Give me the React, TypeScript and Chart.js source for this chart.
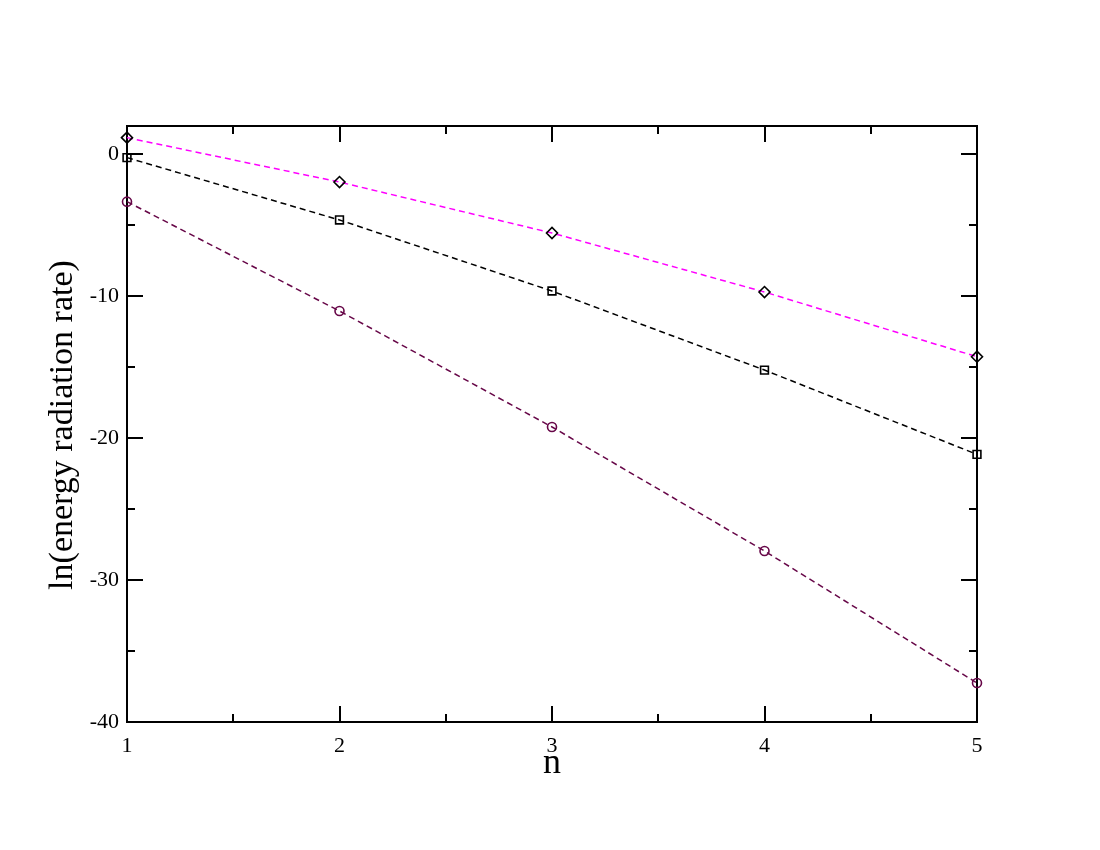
import React, { useEffect, useRef } from "react";
import { Chart, registerables } from "chart.js";

Chart.register(...registerables);

const nValues = [1, 2, 3, 4, 5];
const diamondSeries = [1.18, -1.95, -5.54, -9.7, -14.26];
const squareSeries = [-0.23, -4.62, -9.63, -15.2, -21.14];
const circleSeries = [-3.33, -11.04, -19.21, -27.95, -37.25];
const xMajorTicks = [1, 2, 3, 4, 5];
const xMinorTicks = [1.5, 2.5, 3.5, 4.5];
const yMajorTicks = [-40, -30, -20, -10, 0];
const yMinorTicks = [-35, -25, -15, -5];
const xTitle = "n";
const yTitle = "ln(energy radiation rate)";

const FONT = "'Liberation Serif', 'DejaVu Serif', serif";

const framePlugin = {
  id: "frameTicks",
  beforeDatasetsDraw(chart: any) {
    const { ctx, chartArea } = chart;
    const xs = chart.scales.x;
    const ys = chart.scales.y;
    const { left, right, top, bottom } = chartArea;
    ctx.save();
    ctx.strokeStyle = "#000";
    ctx.lineWidth = 2;
    ctx.setLineDash([]);
    ctx.strokeRect(left, top, right - left, bottom - top);
    const major = 16;
    const minor = 8;
    ctx.beginPath();
    const xt = (v: number, len: number) => {
      const px = Math.round(xs.getPixelForValue(v));
      ctx.moveTo(px, bottom);
      ctx.lineTo(px, bottom - len);
      ctx.moveTo(px, top);
      ctx.lineTo(px, top + len);
    };
    const yt = (v: number, len: number) => {
      const py = Math.round(ys.getPixelForValue(v));
      ctx.moveTo(left, py);
      ctx.lineTo(left + len, py);
      ctx.moveTo(right, py);
      ctx.lineTo(right - len, py);
    };
    xMajorTicks.forEach((v) => xt(v, major));
    xMinorTicks.forEach((v) => xt(v, minor));
    yMajorTicks.forEach((v) => yt(v, major));
    yMinorTicks.forEach((v) => yt(v, minor));
    ctx.stroke();

    ctx.fillStyle = "#000";
    ctx.font = `36px ${FONT}`;
    ctx.textAlign = "center";
    ctx.textBaseline = "alphabetic";
    ctx.fillText(xTitle, (left + right) / 2, 773);

    ctx.font = `34px ${FONT}`;
    ctx.translate(72, (top + bottom) / 2 + 1);
    ctx.rotate(-Math.PI / 2);
    ctx.fillText(yTitle, 0, 0);
    ctx.restore();
  },
};

export default function App() {
  const ref = useRef<HTMLCanvasElement | null>(null);

  useEffect(() => {
    document.body.style.margin = "0";
    const canvas = ref.current;
    if (!canvas) return;
    const mk = (vals: number[]) => nValues.map((n, i) => ({ x: n, y: vals[i] }));
    const common = {
      borderWidth: 1.5,
      borderDash: [6, 4],
      pointBackgroundColor: "rgba(0,0,0,0)",
      pointBorderWidth: 1.6,
      fill: false,
      tension: 0,
      clip: false as any,
    };
    const chart = new Chart(canvas, {
      type: "line",
      data: {
        datasets: [
          {
            ...common,
            label: "diamond",
            data: mk(diamondSeries),
            borderColor: "#ff00ff",
            pointStyle: "rectRot",
            pointRadius: 5.5,
            pointBorderColor: "#000",
          },
          {
            ...common,
            label: "square",
            data: mk(squareSeries),
            borderColor: "#000000",
            pointStyle: "rect",
            pointRadius: 5.5,
            pointBorderColor: "#000",
          },
          {
            ...common,
            label: "circle",
            data: mk(circleSeries),
            borderColor: "#670748",
            pointStyle: "circle",
            pointRadius: 4.5,
            pointBorderColor: "#670748",
          },
        ],
      },
      options: {
        responsive: false,
        animation: false,
        events: [],
        layout: { padding: { left: 57, right: 123, top: 126, bottom: 78 } },
        plugins: { legend: { display: false }, tooltip: { enabled: false } },
        scales: {
          x: {
            type: "linear",
            min: 1,
            max: 5,
            grid: { display: false, drawTicks: false },
            border: { display: false },
            afterBuildTicks: (s: any) => {
              s.ticks = xMajorTicks.map((v) => ({ value: v }));
            },
            afterFit: (s: any) => {
              s.height = 50;
            },
            ticks: {
              color: "#000",
              padding: 11,
              maxRotation: 0,
              autoSkip: false,
              font: { family: FONT, size: 22 },
              callback: (v: any) => String(v),
            },
          },
          y: {
            type: "linear",
            min: -40,
            max: 2,
            grid: { display: false, drawTicks: false },
            border: { display: false },
            afterBuildTicks: (s: any) => {
              s.ticks = yMajorTicks.map((v) => ({ value: v }));
            },
            afterFit: (s: any) => {
              s.width = 70;
            },
            ticks: {
              color: "#000",
              padding: 8,
              autoSkip: false,
              font: { family: FONT, size: 22 },
              callback: (v: any) => String(v),
            },
          },
        },
      },
      plugins: [framePlugin],
    });
    return () => chart.destroy();
  }, []);

  return (
    <div style={{ width: 1100, height: 850, background: "#fff" }}>
      <canvas ref={ref} width={1100} height={850} style={{ display: "block" }} />
    </div>
  );
}
